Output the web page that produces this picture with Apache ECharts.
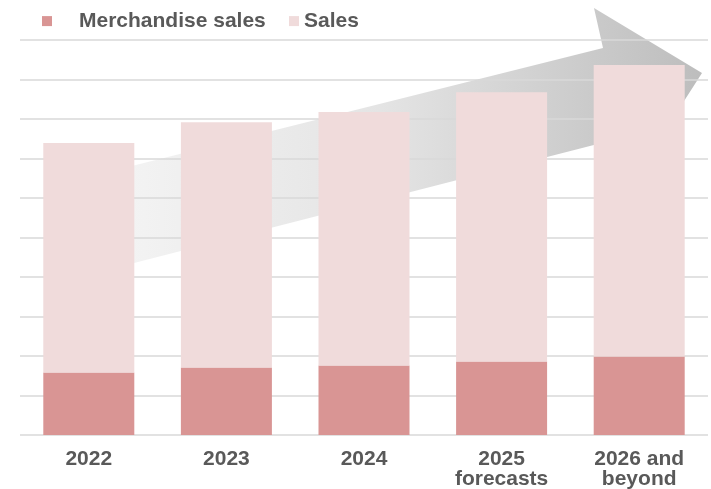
<html>
<head>
    <script src="https://cdn.jsdelivr.net/npm/echarts@6/dist/echarts.min.js"></script>
</head>
<body style="margin:0">
    <div id="chart" style="width:711px;height:489px;"></div>
    <script>
        var years = ['2022', '2023', '2024', '2025\nforecasts', '2026 and\nbeyond'];
        var merchandise = [1.58, 1.71, 1.76, 1.86, 1.99];
        var sales = [5.81, 6.21, 6.42, 6.82, 7.38];

        var font = "'Liberation Sans', Arial, sans-serif";

        var option = {
            animation: false,
            grid: { left: 20, right: 3, top: 40, height: 395, containLabel: false, outerBoundsMode: 'none' },
            legend: [{
                left: 42, top: 3, padding: 0,
                itemWidth: 10, itemHeight: 10, icon: 'rect',
                data: ['Merchandise sales'],
                textStyle: { fontFamily: font, fontSize: 21, lineHeight: 22, fontWeight: 'bold', color: '#595959', padding: [0, 0, 0, 22] }
            }, {
                left: 289, top: 3, padding: 0,
                itemWidth: 10, itemHeight: 10, icon: 'rect',
                data: ['Sales'],
                textStyle: { fontFamily: font, fontSize: 21, lineHeight: 22, fontWeight: 'bold', color: '#595959' }
            }],
            xAxis: {
                type: 'category',
                data: years,
                axisLine: { show: false },
                axisTick: { show: false },
                axisLabel: {
                    margin: 14, fontFamily: font, fontSize: 21, fontWeight: 'bold',
                    color: '#595959', lineHeight: 20, interval: 0
                }
            },
            yAxis: {
                type: 'value', min: 0, max: 10, interval: 1,
                axisLabel: { show: false },
                axisLine: { show: false },
                axisTick: { show: false },
                splitLine: { lineStyle: { color: '#d9d9d9', width: 1.5 } }
            },
            // background arrow
            graphic: [{
                type: 'polygon',
                z: -1,
                silent: true,
                shape: {
                    points: [[60, 184], [603, 48], [594, 8], [702, 73], [636, 176], [625, 137], [60, 282]]
                },
                style: {
                    fill: new echarts.graphic.LinearGradient(0, 0, 1, 0, [
                        { offset: 0, color: '#f7f7f7' },
                        { offset: 0.5, color: '#e4e4e4' },
                        { offset: 1, color: '#bdbdbd' }
                    ])
                }
            }],
            series: [{
                name: 'Merchandise sales',
                type: 'bar',
                stack: 'total',
                barWidth: 91,
                itemStyle: { color: '#d99594' },
                data: merchandise
            }, {
                name: 'Sales',
                type: 'bar',
                stack: 'total',
                barWidth: 91,
                itemStyle: { color: '#f0dbdb' },
                data: sales
            }]
        };

        var myChart = echarts.init(document.getElementById('chart'));
        myChart.setOption(option);
    </script>
</body>
</html>
